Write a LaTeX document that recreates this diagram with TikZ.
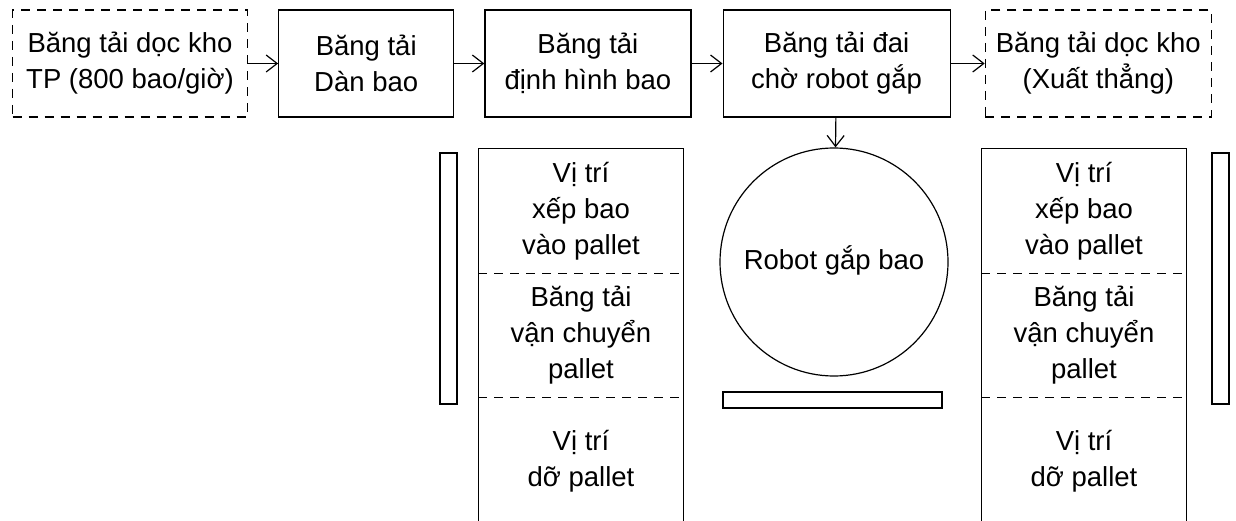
\documentclass[tikz,border=0pt]{standalone}
\usepackage{fontspec}
\setmainfont{Liberation Sans}
\usetikzlibrary{positioning,arrows.meta}

\begin{document}
\begin{tikzpicture}
  [x=1pt,y=-1pt,
   line width=1.2pt,
   font=\fontsize{27.5}{36}\selectfont,
   >={Straight Barb[length=11pt,width=17pt]},
   baseN/.style={draw,align=center,minimum height=107pt},
   beltN/.style={baseN},
   storeN/.style={baseN,dash pattern=on 9pt off 7pt},
   secN/.style={align=center,minimum width=204pt,minimum height=124pt},
   barN/.style={draw,inner sep=0pt},
   robotN/.style={draw,circle,minimum size=228pt,inner sep=0pt},
  ]
  \clip (0,0) rectangle (1236,521);

  % top row
  \node[storeN,minimum width=235pt] (inTP) at (130,63.5) {Băng tải dọc kho\\TP (800 bao/giờ)};
  \node[beltN,minimum width=175pt,right=30pt of inTP] (spread) {Băng tải\\Dàn bao};
  \node[beltN,minimum width=206pt,right=30pt of spread] (shape) {Băng tải\\định hình bao};
  \node[beltN,minimum width=227pt,right=31pt of shape] (wait) {Băng tải đai\\chờ robot gắp};
  \node[storeN,minimum width=226pt,right=34pt of wait] (outDirect) {Băng tải dọc kho\\(Xuất thẳng)};

  \draw[->] (inTP) -- (spread);
  \draw[->] (spread) -- (shape);
  \draw[->] (shape) -- (wait);
  \draw[->] (wait) -- (outDirect);

  % robot
  \node[robotN] (robot) at (834,262) {\raisebox{9pt}{Robot gắp bao}};
  \draw[->] (wait) -- (robot);
  \node[barN,minimum width=219pt,minimum height=16pt] (robotBar) at (832.5,400) {};

  % pallet columns
  \foreach \side/\cx/\bx in {l/581/448.5,r/1084/1220.5}
  {
    \node[secN] (\side Place) at (\cx,211) {Vị trí\\xếp bao\\vào pallet};
    \node[secN] (\side Move) at (\cx,335) {Băng tải\\vận chuyển\\pallet};
    \node[secN,minimum height=128pt] (\side Hold) at (\cx,461) {Vị trí\\dỡ pallet};
    \draw (\side Place.north west) rectangle (\side Hold.south east);
    \draw[dash pattern=on 9pt off 7pt] (\side Place.south west) -- (\side Place.south east);
    \draw[dash pattern=on 9pt off 7pt] (\side Move.south west) -- (\side Move.south east);
    \node[barN,minimum width=17pt,minimum height=251pt] (\side Bar) at (\bx,278.5) {};
  }
\end{tikzpicture}
\end{document}
